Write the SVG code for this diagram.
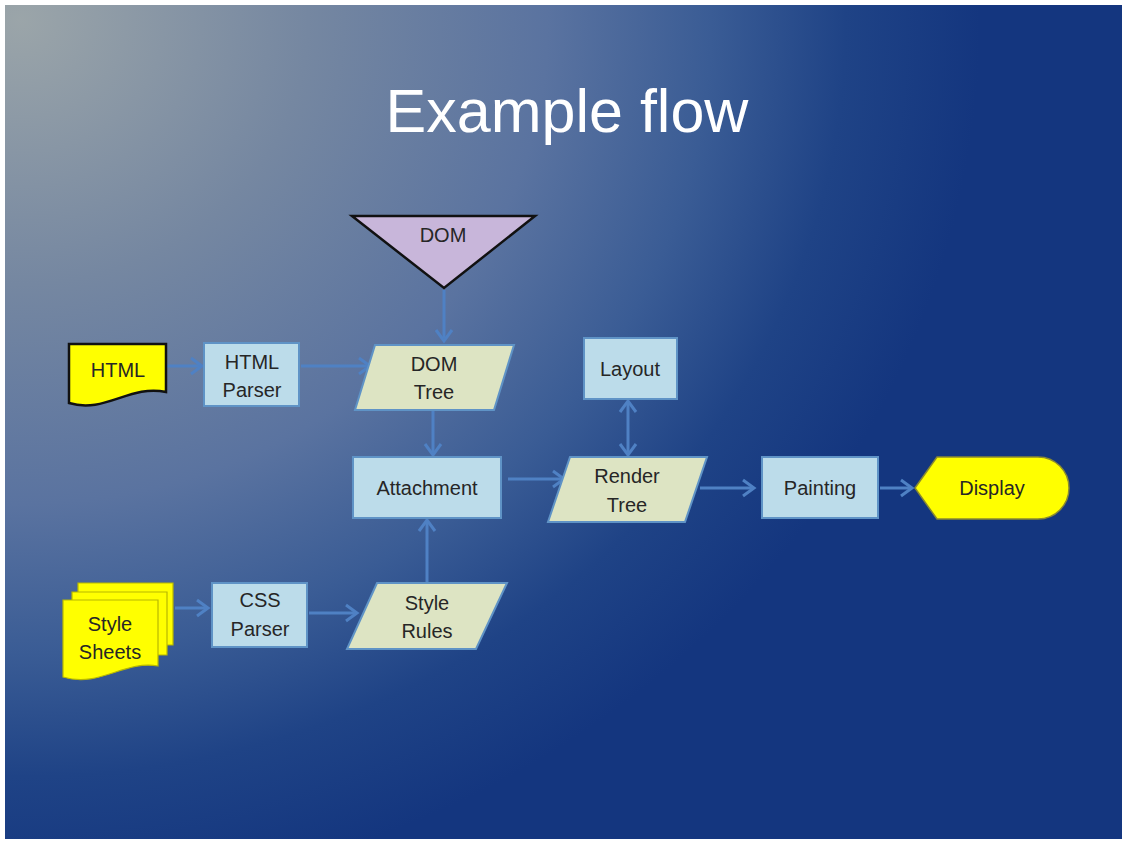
<svg xmlns="http://www.w3.org/2000/svg" width="1122" height="843" viewBox="0 0 1122 843">
<defs>
<radialGradient id="bg" gradientUnits="userSpaceOnUse" cx="0" cy="0" r="1" gradientTransform="translate(20,20) scale(960,880)">
<stop offset="0" stop-color="#9ba5a9"/>
<stop offset="0.3" stop-color="#7587a1"/>
<stop offset="0.55" stop-color="#5a73a0"/>
<stop offset="0.72" stop-color="#3a5c95"/>
<stop offset="0.86" stop-color="#1f4386"/>
<stop offset="1" stop-color="#14367f"/>
</radialGradient>
<marker id="arr" markerUnits="userSpaceOnUse" markerWidth="18" markerHeight="20" refX="14" refY="10" orient="auto-start-reverse">
<path d="M3,2 L14,10 L3,18" fill="none" stroke="#4f81c4" stroke-width="3" stroke-linejoin="miter"/>
</marker>
<style>
.t{font-family:"Liberation Sans",Arial,sans-serif;font-size:20px;fill:#262626;text-anchor:middle}
.box{fill:#bcdcea;stroke:#5f93c6;stroke-width:2}
.para{fill:#dde4c3;stroke:#5f93c6;stroke-width:2}
.doc{fill:#ffff00;stroke:#111;stroke-width:2.5}
.sheet{fill:#ffff00;stroke:#b8b800;stroke-width:1.2}
.c{fill:none;stroke:#4f81c4;stroke-width:3;marker-end:url(#arr)}
</style>
</defs>
<rect x="0" y="0" width="1122" height="843" fill="#ffffff"/>
<rect x="5" y="5" width="1117" height="834" fill="url(#bg)"/>
<text x="567" y="132" font-family="'Liberation Sans',Arial,sans-serif" font-size="61" fill="#ffffff" text-anchor="middle">Example flow</text>

<g id="connectors">
<line class="c" x1="166" y1="366" x2="202" y2="366"/>
<line class="c" x1="301" y1="366" x2="370" y2="366"/>
<line class="c" x1="444" y1="290" x2="444" y2="341"/>
<line class="c" x1="433" y1="411" x2="433" y2="455"/>
<line class="c" x1="427" y1="582" x2="427" y2="520"/>
<line class="c" x1="175" y1="608" x2="208" y2="608"/>
<line class="c" x1="309" y1="613" x2="357" y2="613"/>
<line class="c" x1="508" y1="479" x2="564" y2="479"/>
<line class="c" x1="628" y1="401" x2="628" y2="455" marker-start="url(#arr)"/>
<line class="c" x1="700" y1="488" x2="754" y2="488"/>
<line class="c" x1="880" y1="488" x2="912" y2="488"/>
</g>

<g id="html">
<path class="doc" d="M69,344 L166,344 L166,392 C130,384 105,414 69,403 Z"/>
<text class="t" x="118" y="377">HTML</text>
</g>
<g id="html-parser">
<rect class="box" x="204" y="343" width="95" height="63"/>
<text class="t" x="252" y="369">HTML</text>
<text class="t" x="252" y="397">Parser</text>
</g>
<g id="dom">
<polygon points="352,216 535,216 444,288" fill="#c8b6da" stroke="#111" stroke-width="2.5" stroke-linejoin="miter"/>
<text class="t" x="443" y="242">DOM</text>
</g>
<g id="dom-tree">
<polygon class="para" points="375,345 514,345 494,410 355,410"/>
<text class="t" x="434" y="371">DOM</text>
<text class="t" x="434" y="399">Tree</text>
</g>
<g id="layout">
<rect class="box" x="584" y="338" width="93" height="61"/>
<text class="t" x="630" y="376">Layout</text>
</g>
<g id="attachment">
<rect class="box" x="353" y="457" width="148" height="61"/>
<text class="t" x="427" y="495">Attachment</text>
</g>
<g id="render-tree">
<polygon class="para" points="570,457 707,457 685,522 548,522"/>
<text class="t" x="627" y="483">Render</text>
<text class="t" x="627" y="512">Tree</text>
</g>
<g id="painting">
<rect class="box" x="762" y="457" width="116" height="61"/>
<text class="t" x="820" y="495">Painting</text>
</g>
<g id="display">
<path d="M915,488 L937,457 L1038,457 A31,31 0 0 1 1038,519 L937,519 Z" fill="#ffff00" stroke="#8a8a30" stroke-width="1.5"/>
<text class="t" x="992" y="495">Display</text>
</g>
<g id="style-sheets">
<path class="sheet" d="M78,583 L173,583 L173,645 L78,645 Z"/>
<path class="sheet" d="M72,592 L167,592 L167,655 L72,655 Z"/>
<path class="sheet" d="M63,600 L158,600 L158,666 C124,660 100,688 63,677 Z"/>
<text class="t" x="110" y="631">Style</text>
<text class="t" x="110" y="659">Sheets</text>
</g>
<g id="css-parser">
<rect class="box" x="212" y="583" width="95" height="64"/>
<text class="t" x="260" y="607">CSS</text>
<text class="t" x="260" y="636">Parser</text>
</g>
<g id="style-rules">
<polygon class="para" points="377,583 507,583 476,649 347,649"/>
<text class="t" x="427" y="610">Style</text>
<text class="t" x="427" y="638">Rules</text>
</g>
</svg>
